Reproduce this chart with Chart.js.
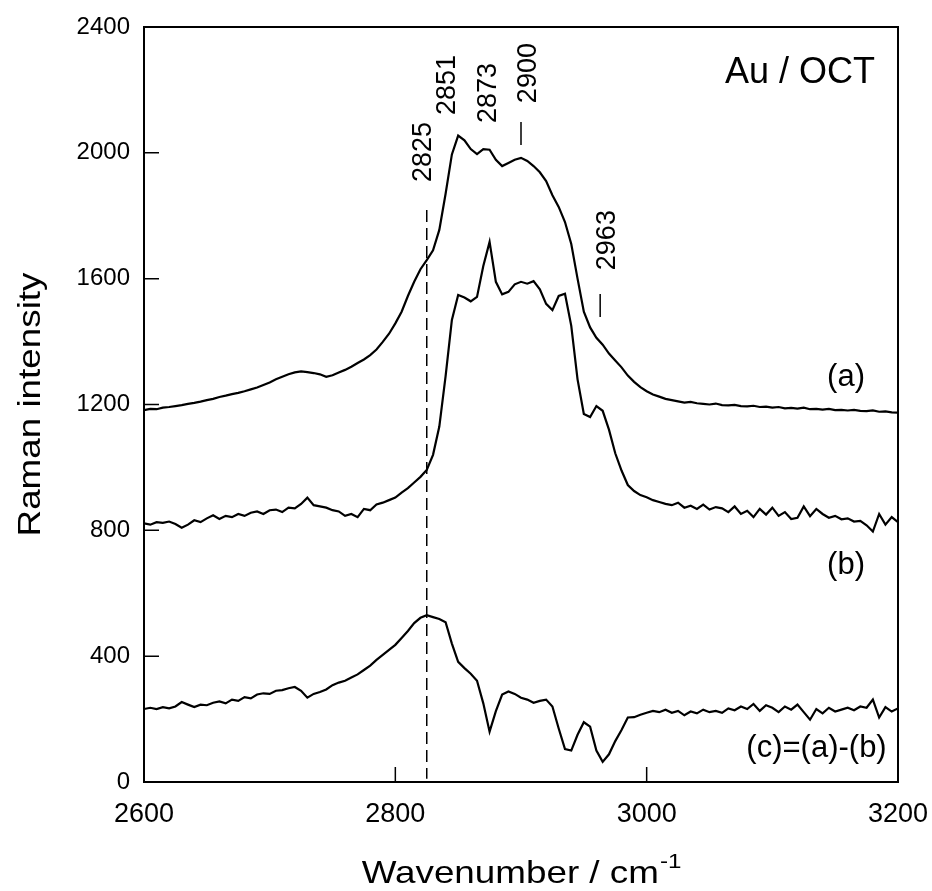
<!DOCTYPE html>
<html>
<head>
<meta charset="utf-8">
<script src="https://cdn.jsdelivr.net/npm/chart.js@4.4.0/dist/chart.umd.min.js"></script>
<style>
  html, body { margin: 0; padding: 0; background: #fff; }
</style>
</head>
<body>
<canvas id="grafico" width="932" height="891"></canvas>
<script>
// Eixo x: número de onda (cm-1), passo de 5
const wavenumbers = [
  2600, 2605, 2610, 2615, 2620, 2625, 2630, 2635, 2640, 2645,
  2650, 2655, 2660, 2665, 2670, 2675, 2680, 2685, 2690, 2695,
  2700, 2705, 2710, 2715, 2720, 2725, 2730, 2735, 2740, 2745,
  2750, 2755, 2760, 2765, 2770, 2775, 2780, 2785, 2790, 2795,
  2800, 2805, 2810, 2815, 2820, 2825, 2830, 2835, 2840, 2845,
  2850, 2855, 2860, 2865, 2870, 2875, 2880, 2885, 2890, 2895,
  2900, 2905, 2910, 2915, 2920, 2925, 2930, 2935, 2940, 2945,
  2950, 2955, 2960, 2965, 2970, 2975, 2980, 2985, 2990, 2995,
  3000, 3005, 3010, 3015, 3020, 3025, 3030, 3035, 3040, 3045,
  3050, 3055, 3060, 3065, 3070, 3075, 3080, 3085, 3090, 3095,
  3100, 3105, 3110, 3115, 3120, 3125, 3130, 3135, 3140, 3145,
  3150, 3155, 3160, 3165, 3170, 3175, 3180, 3185, 3190, 3195,
  3200
];

// (a)
const spectrumA = [
  1182, 1186, 1185, 1190, 1192, 1195, 1198, 1202, 1205, 1209,
  1214, 1218, 1224, 1228, 1233, 1237, 1242, 1248, 1254, 1262,
  1270, 1280, 1288, 1296, 1302, 1305, 1303, 1300, 1296, 1288,
  1293, 1302, 1310, 1320, 1332, 1343, 1357, 1375, 1399, 1425,
  1458, 1495, 1545, 1590, 1630, 1659, 1690, 1755, 1870, 1995,
  2055, 2040, 2012, 1996, 2012, 2010, 1978, 1958, 1968, 1978,
  1984, 1974, 1958, 1938, 1910, 1865, 1828, 1780, 1710, 1600,
  1495, 1445, 1412, 1390, 1362, 1340, 1318, 1292, 1272, 1255,
  1242, 1232, 1225, 1218, 1214, 1210, 1206, 1208, 1204, 1202,
  1200, 1203, 1198, 1197, 1199, 1195, 1194, 1196, 1192, 1193,
  1190, 1192, 1188, 1189, 1187, 1190, 1185, 1186, 1184, 1186,
  1182, 1183, 1181, 1183, 1180, 1179, 1181, 1177, 1178, 1175,
  1174
];

// (b)
const spectrumB = [
  822, 818, 826, 824, 828, 820, 808, 818, 832, 826,
  838, 848, 836, 846, 842, 852, 846, 856, 860, 852,
  864, 866, 858, 872, 870, 884, 904, 880, 876, 872,
  864, 860, 846, 852, 842, 868, 864, 882, 888, 896,
  904, 920, 934, 952, 970, 992, 1040, 1130, 1290, 1469,
  1548, 1540, 1528, 1542, 1640, 1717, 1590, 1550, 1558, 1582,
  1590, 1584, 1592, 1566, 1520, 1500, 1545, 1552, 1450, 1280,
  1170, 1160, 1195, 1180, 1120, 1045, 990, 944, 925, 912,
  905, 896, 890, 884, 880, 888, 872, 878, 868, 882,
  866, 874, 870, 858, 876, 852, 862, 842, 868, 850,
  872, 846, 858, 836, 840, 876, 845, 868, 852, 840,
  846, 835, 838, 828, 830, 816, 796, 852, 818, 842,
  826
];

// (c) = (a) - (b)
const spectrumC = [
  232, 236, 232, 238, 234, 240, 254, 246, 238, 246,
  244, 252, 256, 250, 262, 258, 270, 266, 278, 282,
  280, 290, 292, 298, 302, 290, 268, 280, 286, 294,
  308, 316, 322, 332, 342, 356, 370, 388, 404, 420,
  436, 458, 480, 505, 522, 530, 524, 518, 508, 440,
  382, 362, 344, 322, 250, 160, 225, 278, 288, 280,
  268, 262, 252, 258, 262, 240, 170, 105, 100, 150,
  190, 176, 100, 64, 88, 130, 165, 205, 206, 214,
  220, 226, 222, 230, 220, 226, 212, 224, 218, 230,
  222, 226, 220, 234, 228, 240, 232, 248, 226, 244,
  236, 222, 240, 230, 246, 222, 198, 232, 218, 236,
  224, 230, 236, 228, 240, 236, 262, 205, 238, 224,
  234
];

const xTicks = [2600, 2800, 3000, 3200];
const yTicks = [0, 400, 800, 1200, 1600, 2000, 2400];
const peakLabels = ["2825", "2851", "2873", "2900", "2963"];

const FONT = "'Liberation Sans', Arial, sans-serif";

function toPoints(values) {
  return wavenumbers.map((wn, i) => ({ x: wn, y: values[i] }));
}

// Moldura, marcas internas, linha tracejada e textos
const decoracao = {
  id: "decoracao",
  afterDraw(chart) {
    const { ctx, chartArea: area, scales: { x, y } } = chart;
    ctx.save();
    ctx.strokeStyle = "#000";
    ctx.fillStyle = "#000";

    ctx.lineWidth = 2;
    ctx.strokeRect(area.left, area.top, area.right - area.left, area.bottom - area.top);

    ctx.lineWidth = 1.5;
    ctx.beginPath();
    yTicks.forEach(v => {
      const py = y.getPixelForValue(v);
      ctx.moveTo(area.left, py);
      ctx.lineTo(area.left + 15, py);
    });
    xTicks.forEach(v => {
      const px = x.getPixelForValue(v);
      ctx.moveTo(px, area.bottom);
      ctx.lineTo(px, area.bottom - 15);
    });
    ctx.stroke();

    // linha tracejada em 2825
    const xd = x.getPixelForValue(2825);
    ctx.setLineDash([12, 6]);
    ctx.beginPath();
    ctx.moveTo(xd, y.getPixelForValue(1818));
    ctx.lineTo(xd, y.getPixelForValue(10));
    ctx.stroke();
    ctx.setLineDash([]);

    // traços curtos sob 2900 e 2963
    ctx.beginPath();
    ctx.moveTo(x.getPixelForValue(2900), y.getPixelForValue(2098));
    ctx.lineTo(x.getPixelForValue(2900), y.getPixelForValue(2025));
    ctx.moveTo(x.getPixelForValue(2963), y.getPixelForValue(1551));
    ctx.lineTo(x.getPixelForValue(2963), y.getPixelForValue(1478));
    ctx.stroke();

    // rótulos verticais dos picos
    const anchors = [[2822, 1907], [2841, 2120], [2873, 2095], [2905, 2158], [2968, 1627]];
    ctx.font = "27px " + FONT;
    ctx.textAlign = "left";
    ctx.textBaseline = "middle";
    peakLabels.forEach((txt, i) => {
      ctx.save();
      ctx.translate(x.getPixelForValue(anchors[i][0]), y.getPixelForValue(anchors[i][1]));
      ctx.rotate(-Math.PI / 2);
      ctx.fillText(txt, 0, 1);
      ctx.restore();
    });

    // nomes das curvas
    ctx.textBaseline = "alphabetic";
    ctx.textAlign = "right";
    ctx.font = "36px " + FONT;
    ctx.fillText("Au / OCT", x.getPixelForValue(3181.7), y.getPixelForValue(2222));
    ctx.font = "31px " + FONT;
    ctx.fillText("(a)", x.getPixelForValue(3173.7), y.getPixelForValue(1259));
    ctx.fillText("(b)", x.getPixelForValue(3173.7), y.getPixelForValue(661));
    ctx.fillText("(c)=(a)-(b)", x.getPixelForValue(3191), y.getPixelForValue(79));

    // títulos dos eixos (texto um pouco alargado, como no original)
    const stretch = 1.15;
    ctx.font = "32px " + FONT;
    ctx.textAlign = "center";
    ctx.save();
    ctx.translate(40, (area.top + area.bottom) / 2);
    ctx.rotate(-Math.PI / 2);
    ctx.scale(stretch, 1);
    ctx.fillText("Raman intensity", 0, 0);
    ctx.restore();

    const main = "Wavenumber / cm";
    ctx.font = "32px " + FONT;
    const wMain = ctx.measureText(main).width * stretch;
    ctx.font = "21px " + FONT;
    const wSup = ctx.measureText("-1").width * stretch;
    const cx = (area.left + area.right) / 2;
    const startX = cx - (wMain + wSup) / 2;
    ctx.textAlign = "left";
    ctx.save();
    ctx.translate(startX, 883);
    ctx.scale(stretch, 1);
    ctx.font = "32px " + FONT;
    ctx.fillText(main, 0, 0);
    ctx.font = "21px " + FONT;
    ctx.fillText("-1", wMain / stretch + 1, -15);
    ctx.restore();

    ctx.restore();
  }
};

const serie = (values) => ({
  data: toPoints(values),
  borderColor: "#000",
  borderWidth: 2.2,
  pointRadius: 0,
  fill: false,
  tension: 0
});

new Chart(document.getElementById("grafico").getContext("2d"), {
  type: "line",
  data: {
    datasets: [serie(spectrumA), serie(spectrumB), serie(spectrumC)]
  },
  options: {
    responsive: false,
    animation: false,
    devicePixelRatio: 1,
    layout: { padding: { top: 27, right: 34, left: 0, bottom: 0 } },
    plugins: { legend: { display: false }, tooltip: { enabled: false } },
    scales: {
      x: {
        type: "linear",
        min: 2600,
        max: 3200,
        afterBuildTicks: s => { s.ticks = xTicks.map(v => ({ value: v })); },
        afterFit: s => { s.height = 109; s.paddingLeft = 0; s.paddingRight = 0; },
        grid: { display: false, drawTicks: false },
        border: { display: false },
        ticks: {
          color: "#000",
          font: { family: FONT, size: 27 },
          padding: 16,
          maxRotation: 0,
          autoSkip: false,
          callback: v => String(v)
        }
      },
      y: {
        min: 0,
        max: 2400,
        afterBuildTicks: s => { s.ticks = yTicks.map(v => ({ value: v })); },
        afterFit: s => { s.width = 144; s.paddingTop = 0; s.paddingBottom = 0; },
        grid: { display: false, drawTicks: false },
        border: { display: false },
        ticks: {
          color: "#000",
          font: { family: FONT, size: 24 },
          padding: 14,
          autoSkip: false,
          callback: v => String(v)
        }
      }
    }
  },
  plugins: [decoracao]
});
</script>
</body>
</html>
